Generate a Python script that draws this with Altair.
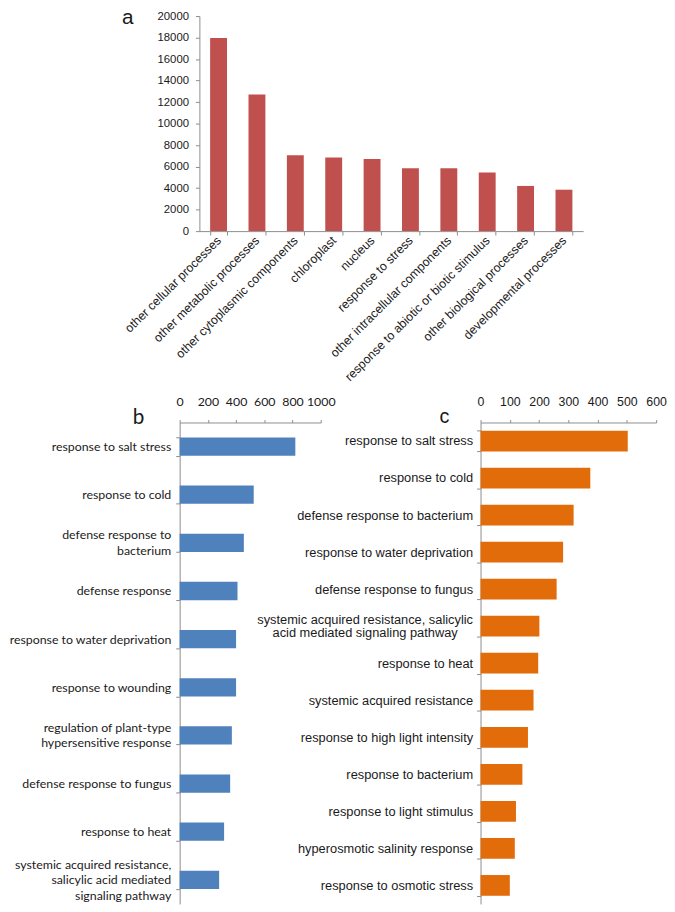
import altair as alt
import pandas as pd

a_categories = ["other cellular processes", "other metabolic processes", "other cytoplasmic components",
                "chloroplast", "nucleus", "response to stress", "other intracellular components",
                "response to abiotic or biotic stimulus", "other biological processes", "developmental processes"]
a_values = [17950, 12700, 7050, 6850, 6700, 5850, 5850, 5450, 4200, 3850]
a_ticks = [0, 2000, 4000, 6000, 8000, 10000, 12000, 14000, 16000, 18000, 20000]

b_categories = ["response to salt stress", "response to cold", "defense response to|bacterium",
                "defense response", "response to water deprivation", "response to wounding",
                "regulation of plant-type|hypersensitive response", "defense response to fungus",
                "response to heat", "systemic acquired resistance,|salicylic acid mediated|signaling pathway"]
b_values = [820, 525, 455, 410, 400, 400, 370, 358, 315, 280]
b_ticks = [0, 200, 400, 600, 800, 1000]

c_categories = ["response to salt stress", "response to cold", "defense response to bacterium",
                "response to water deprivation", "defense response to fungus",
                "systemic acquired resistance, salicylic|acid mediated signaling pathway",
                "response to heat", "systemic acquired resistance", "response to high light intensity",
                "response to bacterium", "response to light stimulus", "hyperosmotic salinity response",
                "response to osmotic stress"]
c_values = [503, 375, 318, 282, 260, 201, 197, 181, 162, 143, 121, 117, 100]
c_ticks = [0, 100, 200, 300, 400, 500, 600]

df_a = pd.DataFrame({"cat": a_categories, "val": a_values})
df_b = pd.DataFrame({"cat": b_categories, "val": b_values})
df_c = pd.DataFrame({"cat": c_categories, "val": c_values})

AX = "#8c8c8c"
TXT = "#1a1a1a"
ARIAL = "Liberation Sans"
CAL = "Lato"

TWO_LINES = "length(split(datum.value, '|')) == 2"
THREE_LINES = "length(split(datum.value, '|')) == 3"

a = alt.Chart(df_a).mark_bar(color="#C0504D").encode(
    x=alt.X("cat:N", sort=a_categories,
            scale=alt.Scale(range=[20, 409], paddingInner=0.56, paddingOuter=0.28),
            axis=alt.Axis(title=None, labelAngle=-45, labelAlign="right", labelBaseline="middle",
                          tickBand="extent", tickSize=4, labelPadding=3, domainColor=AX, tickColor=AX,
                          labelFont=ARIAL, labelFontSize=12.5, labelColor=TXT, labelLimit=300,
                          labelOverlap=False)),
    y=alt.Y("val:Q", scale=alt.Scale(domain=[0, 20000], nice=False),
            axis=alt.Axis(values=a_ticks, format="d", grid=False, offset=-20, tickSize=4, labelPadding=7,
                          domainColor=AX, tickColor=AX, labelFont=ARIAL, labelFontSize=11.5,
                          labelColor=TXT, title="a", titleAngle=0, titleX=-79, titleY=8,
                          titleAlign="left", titleBaseline="alphabetic", titleFont=ARIAL,
                          titleFontSize=21, titleFontWeight="normal", titleColor=TXT)),
).properties(width=409, height=218)

b = alt.Chart(df_b).mark_bar(color="#4F81BD").encode(
    x=alt.X("val:Q", scale=alt.Scale(domain=[0, 1000], nice=False),
            axis=alt.Axis(orient="top", values=b_ticks, format="d", title=None, grid=False, tickSize=3,
                          labelPadding=11, labelFlush=False, domainColor=AX, tickColor=AX,
                          labelFont=CAL, labelFontSize=12.5, labelColor=TXT)),
    y=alt.Y("cat:N", sort=b_categories,
            scale=alt.Scale(paddingInner=0.62, paddingOuter=0.31),
            axis=alt.Axis(title="b", titleAngle=0, titleX=-48, titleY=1, titleAlign="left",
                          titleBaseline="alphabetic", titleFont=CAL, titleFontSize=21,
                          titleFontWeight="normal", titleColor=TXT,
                          tickBand="extent", tickSize=4, domainColor=AX, tickColor=AX,
                          labelFont=CAL, labelFontSize=12.5, labelColor=TXT, labelLimit=300,
                          labelLineHeight=15.5, labelExpr="split(datum.label, '|')",
                          labelBaseline={"condition": {"test": TWO_LINES, "value": "line-bottom"}, "value": "middle"},
                          labelOffset={"condition": {"test": THREE_LINES, "value": -15.5}, "value": 0},
                          labelPadding=5)),
).properties(width=143, height=488)

c = alt.Chart(df_c).mark_bar(color="#E36C0A").encode(
    x=alt.X("val:Q", scale=alt.Scale(domain=[0, 600], nice=False),
            axis=alt.Axis(orient="top", values=c_ticks, title=None, grid=False, tickSize=3,
                          labelPadding=11, labelFlush=False, domainColor=AX, tickColor=AX,
                          labelFont=ARIAL, labelFontSize=12.5, labelColor=TXT)),
    y=alt.Y("cat:N", sort=c_categories,
            scale=alt.Scale(paddingInner=0.44, paddingOuter=0.22),
            axis=alt.Axis(title="c", titleAngle=0, titleX=-42, titleY=0, titleAlign="left",
                          titleBaseline="alphabetic", titleFont=ARIAL, titleFontSize=20,
                          titleFontWeight="normal", titleColor=TXT,
                          tickBand="extent", tickSize=4, domainColor=AX, tickColor=AX,
                          labelFont=ARIAL, labelFontSize=13, labelColor=TXT, labelLimit=300,
                          labelLineHeight=13.5, labelExpr="split(datum.label, '|')",
                          labelBaseline={"condition": {"test": TWO_LINES, "value": "line-bottom"}, "value": "middle"},
                          labelAlign={"condition": {"test": TWO_LINES, "value": "center"}, "value": "right"},
                          labelPadding={"condition": {"test": TWO_LINES, "value": 113.5}, "value": 4})),
).properties(width=178, height=488)

row2 = alt.hconcat(b, c, spacing=162, bounds="flush")

chart = alt.vconcat(a, row2, spacing=12).properties(
    padding={"left": 0, "top": -7, "right": 0, "bottom": 0}
).configure_view(stroke=None)

chart.save("out.html", embed_options={"renderer": "svg", "actions": False})
